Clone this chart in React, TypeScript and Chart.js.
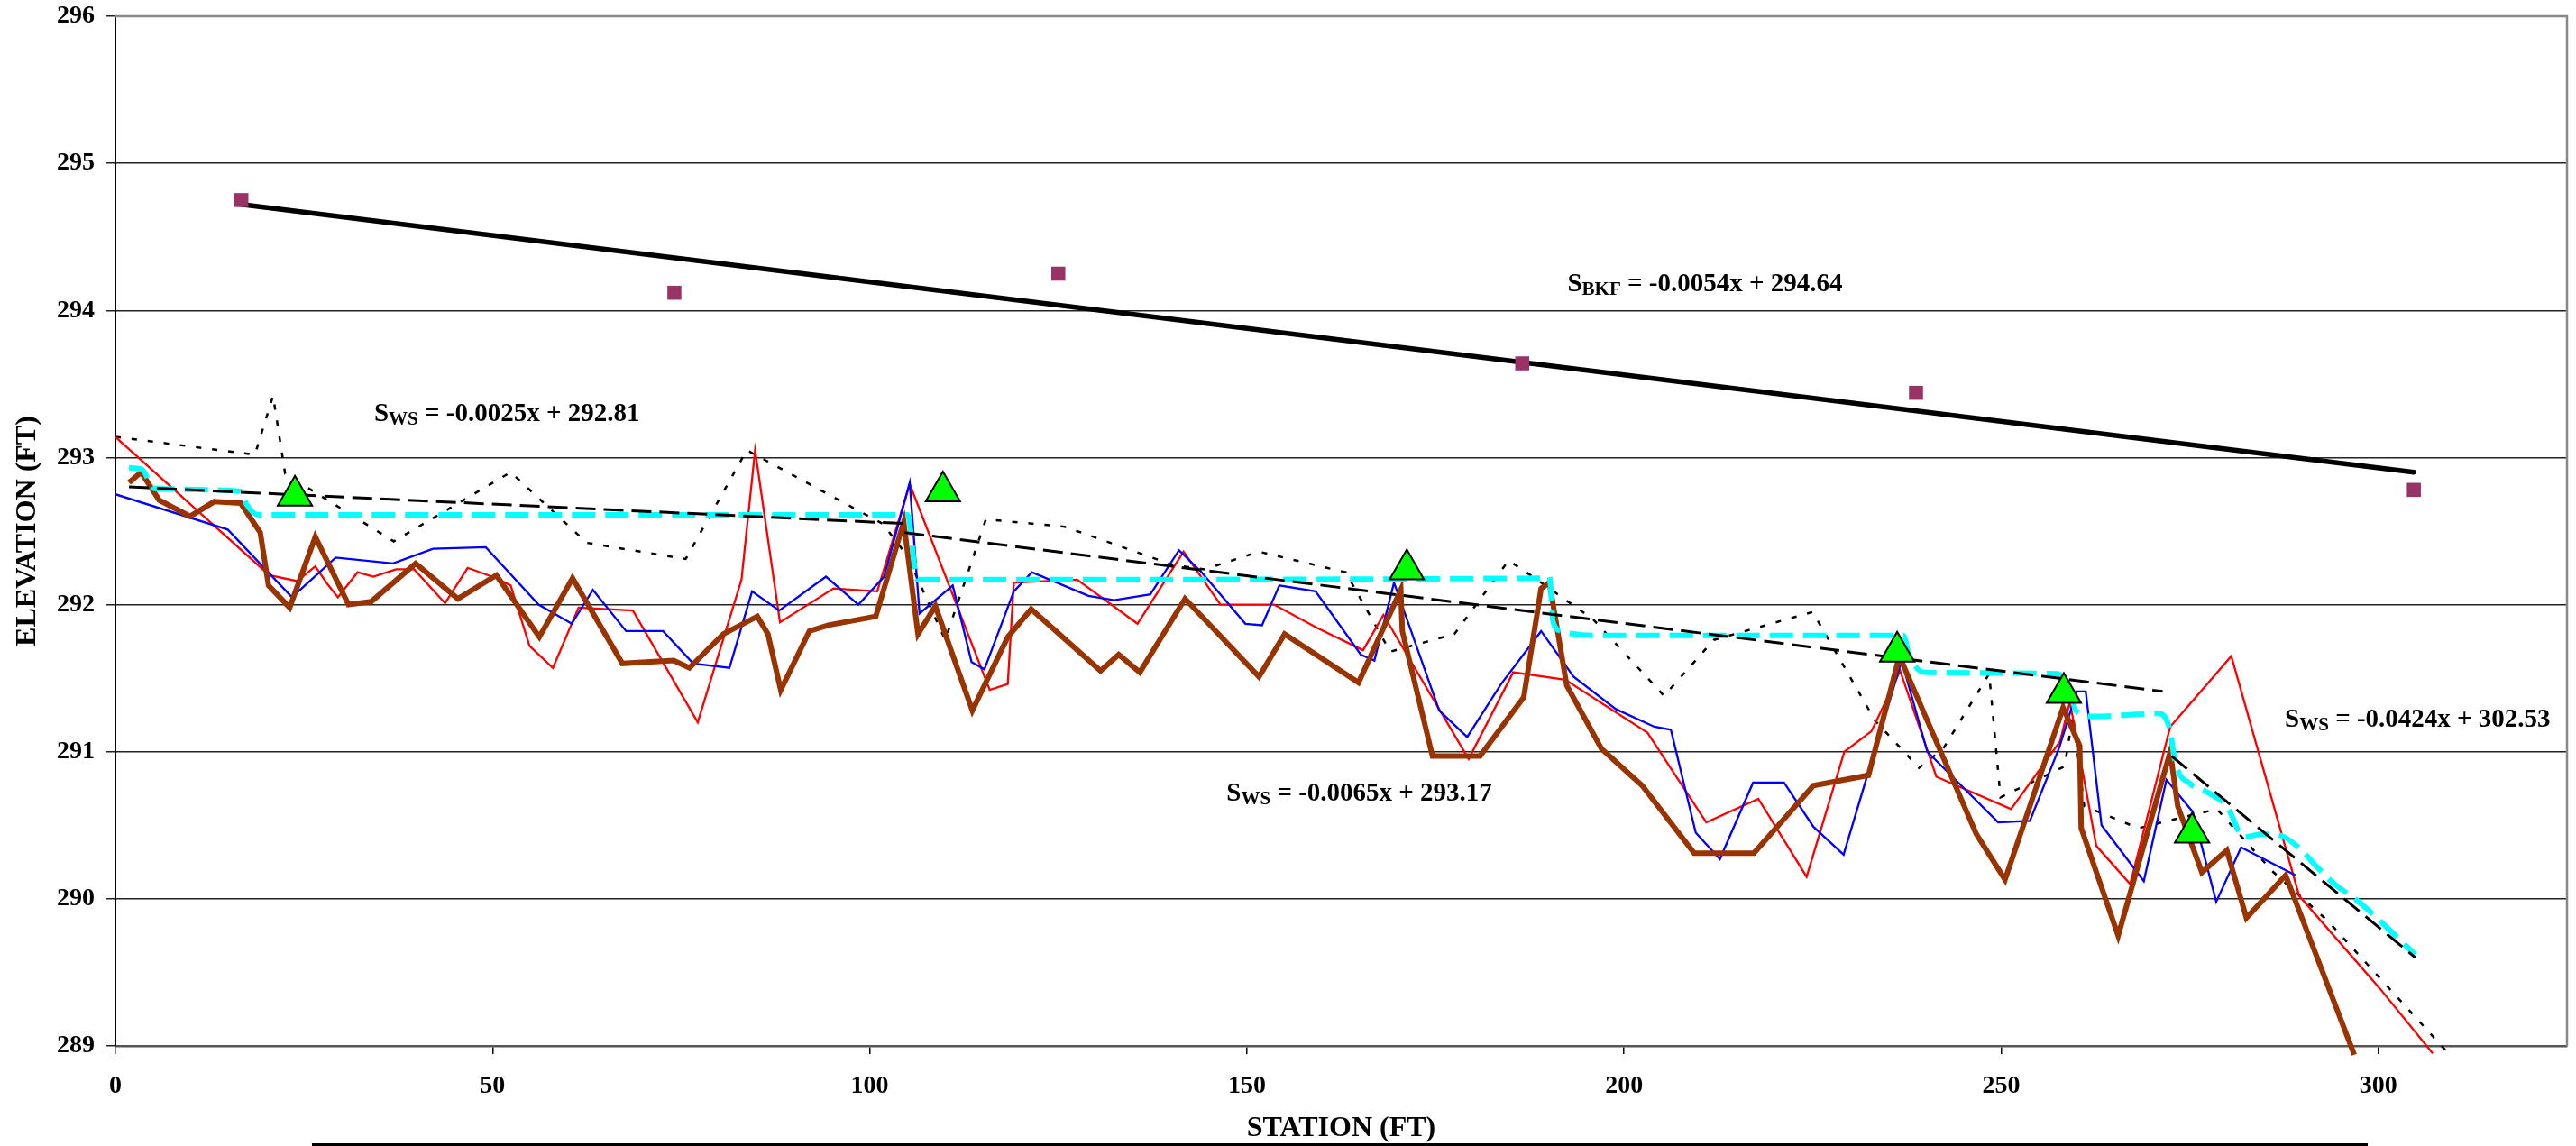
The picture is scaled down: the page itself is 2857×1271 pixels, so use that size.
import React, { useEffect, useRef } from 'react';
import { Chart, registerables } from 'chart.js';

Chart.register(...registerables);

const W = 2857;
const H = 1271;

// ---------- data (station ft, elevation ft) ----------
const xTickValues = [0, 50, 100, 150, 200, 250, 300];
const yTickValues = [289, 290, 291, 292, 293, 294, 295, 296];

const redProfile: [number, number][] = [
  [0, 293.14], [20.4, 292.2], [24.1, 292.16], [26.5, 292.26], [28.1, 292.14], [29.5, 292.05],
  [32.1, 292.22], [34.2, 292.19], [37.2, 292.24], [39.6, 292.24], [43.7, 292.01], [46.7, 292.25],
  [50.5, 292.18], [52.4, 292.13], [54.9, 291.72], [58.0, 291.57], [61.4, 291.98], [68.6, 291.96],
  [77.2, 291.2], [83.0, 292.17], [84.8, 293.05], [88.1, 291.88], [95.2, 292.11], [101.0, 292.09],
  [105.3, 292.82], [115.9, 291.42], [118.3, 291.46], [119.1, 292.15], [127.5, 292.17], [135.5, 291.87],
  [141.6, 292.36], [146.5, 292.0], [153.6, 292.0], [159.4, 291.84], [165.4, 291.69], [168.1, 291.93],
  [179.4, 290.95], [185.3, 291.54], [192.2, 291.49], [203.1, 291.13], [210.9, 290.52], [217.8, 290.68],
  [224.2, 290.15], [229.2, 291.0], [232.8, 291.14], [236.6, 291.55], [241.4, 290.83], [251.3, 290.61],
  [257.8, 291.07], [259.1, 291.34], [262.6, 290.36], [267.1, 290.1], [272.4, 291.17], [280.5, 291.65],
  [289.5, 290.02], [300.2, 289.39], [307.2, 288.95],
];

const blueProfile: [number, number][] = [
  [0, 292.75], [14.9, 292.51], [23.4, 292.05], [29.2, 292.32], [36.8, 292.28], [42.1, 292.38],
  [49.1, 292.39], [56.1, 292.0], [60.5, 291.87], [63.3, 292.1], [67.7, 291.82], [72.6, 291.82],
  [76.6, 291.6], [81.4, 291.57], [84.4, 292.09], [88.0, 291.96], [94.2, 292.19], [98.5, 292.0],
  [101.9, 292.19], [105.3, 292.83], [106.6, 291.94], [111.0, 292.13], [113.5, 291.61], [115.2, 291.56],
  [119.1, 292.09], [121.5, 292.22], [129.0, 292.06], [132.4, 292.03], [137.2, 292.07], [141.0, 292.37],
  [144.0, 292.22], [149.8, 291.87], [152.0, 291.86], [154.3, 292.13], [159.1, 292.09], [165.1, 291.66],
  [166.9, 291.62], [169.5, 292.15], [175.5, 291.28], [179.2, 291.1], [183.7, 291.46], [189.0, 291.82],
  [193.3, 291.51], [198.9, 291.29], [204.0, 291.17], [206.2, 291.15], [209.5, 290.45], [212.7, 290.27],
  [217.1, 290.79], [221.2, 290.79], [225.1, 290.49], [229.1, 290.3], [236.8, 291.62], [240.2, 291.0],
  [249.6, 290.52], [253.8, 290.53], [257.7, 291.03], [260.0, 291.41], [261.2, 291.41], [263.3, 290.5],
  [268.9, 290.12], [271.9, 290.81], [275.4, 290.59], [278.5, 289.98], [281.8, 290.35], [289.0, 290.16],
];

const brownThalweg: [number, number][] = [
  [1.8, 292.83], [3.4, 292.9], [5.8, 292.71], [9.9, 292.6], [13.1, 292.7], [16.6, 292.69],
  [19.2, 292.49], [20.3, 292.13], [23.1, 291.98], [26.5, 292.46], [30.9, 292.0], [33.9, 292.02],
  [39.8, 292.28], [45.4, 292.04], [50.5, 292.2], [56.2, 291.78], [60.6, 292.18], [67.2, 291.6],
  [74.0, 291.62], [76.1, 291.57], [80.6, 291.8], [85.1, 291.92], [86.5, 291.8], [88.2, 291.42],
  [92.0, 291.82], [94.5, 291.86], [100.8, 291.92], [104.5, 292.56], [106.4, 291.8], [108.7, 291.99],
  [113.6, 291.28], [118.3, 291.78], [121.4, 291.97], [130.6, 291.55], [133.0, 291.66], [135.8, 291.54],
  [141.8, 292.04], [151.6, 291.51], [155.0, 291.8], [164.8, 291.47], [170.4, 292.1], [170.6, 291.82],
  [174.6, 290.97], [180.9, 290.97], [186.7, 291.37], [189.0, 292.11], [190.1, 292.15], [192.4, 291.45],
  [197.0, 291.02], [202.4, 290.77], [209.3, 290.31], [217.2, 290.31], [225.1, 290.77], [232.4, 290.84],
  [236.5, 291.65], [246.7, 290.44], [250.5, 290.13], [258.2, 291.3], [260.4, 291.04], [260.6, 290.48],
  [265.5, 289.75], [272.4, 291.0], [273.4, 290.63], [276.6, 290.18], [279.9, 290.33], [282.5, 289.87],
  [287.7, 290.16], [296.8, 288.94],
];

const dottedProfile: [number, number][] = [
  [0, 293.14], [18.5, 293.02], [20.9, 293.42], [22.5, 292.89], [36.9, 292.43], [52.4, 292.9],
  [62.5, 292.42], [75.6, 292.31], [83.7, 293.05], [101.7, 292.55], [105.0, 292.33], [110.0, 291.76],
  [115.4, 292.58], [125.8, 292.53], [140.2, 292.27], [144.4, 292.24], [151.6, 292.36], [163.1, 292.22],
  [169.0, 291.68], [177.5, 291.8], [184.7, 292.3], [187.9, 292.19], [195.9, 291.9], [205.3, 291.38],
  [211.9, 291.76], [225.0, 291.95], [233.3, 291.21], [239.1, 290.89], [242.3, 291.02], [248.4, 291.53],
  [249.9, 290.69], [258.4, 290.9], [259.5, 291.25], [261.0, 290.63], [268.2, 290.48], [272.9, 290.54],
  [278.6, 290.61], [285.9, 290.19], [293.3, 289.85], [308.9, 288.97],
];

const waterSurface: [number, number][] = [
  [1.8, 292.93], [3.5, 292.92], [5.1, 292.79], [16.6, 292.77], [17.4, 292.68], [19.0, 292.61],
  [105.0, 292.61], [106.3, 292.17], [189.0, 292.18], [190.1, 292.19], [190.6, 291.88], [191.7, 291.82],
  [195.9, 291.79], [237.0, 291.79], [237.8, 291.66], [239.7, 291.54], [257.5, 291.53], [259.1, 291.41],
  [259.9, 291.28], [262.3, 291.24], [270.9, 291.26], [272.3, 291.16], [273.1, 290.92], [275.1, 290.78],
  [277.5, 290.72], [279.9, 290.63], [282.2, 290.42], [284.6, 290.44], [287.0, 290.43], [289.4, 290.35],
  [291.8, 290.22], [294.2, 290.1], [297.4, 289.98], [304.9, 289.62],
];

const wsTrend1: [number, number][] = [[1.8, 292.8], [105.0, 292.55]];
const wsTrend2: [number, number][] = [[104.6, 292.49], [271.4, 291.41]];
const wsTrend3: [number, number][] = [[272.6, 290.97], [304.9, 289.6]];
const bkfTrend: [number, number][] = [[16.7, 294.72], [304.7, 292.9]];

const bankfullPoints: [number, number][] = [
  [16.7, 294.75], [74.1, 294.12], [125.0, 294.25], [186.5, 293.64], [238.7, 293.44], [304.7, 292.78],
];

const surveyTriangles: [number, number][] = [
  [23.8, 292.74], [109.7, 292.77], [171.2, 292.24], [236.2, 291.68], [258.3, 291.4], [275.3, 290.45],
];

// equation labels: anchor in data units
const equationLabels = [
  { x: 34.3, y: 293.25, sub: 'WS', rest: ' = -0.0025x + 292.81' },
  { x: 192.5, y: 294.13, sub: 'BKF', rest: ' = -0.0054x + 294.64' },
  { x: 147.3, y: 290.67, sub: 'WS', rest: ' = -0.0065x + 293.17' },
  { x: 287.6, y: 291.17, sub: 'WS', rest: ' = -0.0424x + 302.53' },
];

const SERIF = '"Liberation Serif", "Times New Roman", serif';
const pts = (a: [number, number][]) => a.map(([x, y]) => ({ x, y }));

const decorPlugin = {
  id: 'decor',
  beforeDraw(chart: any) {
    const { ctx } = chart;
    ctx.save();
    ctx.fillStyle = '#fff';
    ctx.fillRect(0, 0, chart.width, chart.height);
    // top edge of the (cut-off) legend box
    ctx.fillStyle = '#000';
    ctx.fillRect(346, 1268, 2280, 3);
    ctx.restore();
  },
  beforeDatasetsDraw(chart: any) {
    const { ctx, chartArea: a } = chart;
    ctx.save();
    ctx.strokeStyle = '#888';
    ctx.lineWidth = 2.5;
    ctx.beginPath();
    ctx.moveTo(a.left, a.top);
    ctx.lineTo(a.right, a.top);
    ctx.lineTo(a.right, a.bottom);
    ctx.stroke();
    ctx.restore();
  },
  afterDraw(chart: any) {
    const { ctx } = chart;
    const xs = chart.scales.x;
    const ys = chart.scales.y;
    ctx.save();
    ctx.fillStyle = '#000';
    ctx.textAlign = 'left';
    ctx.textBaseline = 'alphabetic';
    const mainFont = `bold 29px ${SERIF}`;
    const subFont = `bold 21px ${SERIF}`;
    for (const l of equationLabels) {
      let px = xs.getPixelForValue(l.x);
      const py = ys.getPixelForValue(l.y);
      ctx.font = mainFont;
      ctx.fillText('S', px, py);
      px += ctx.measureText('S').width;
      ctx.font = subFont;
      ctx.fillText(l.sub, px, py + 4);
      px += ctx.measureText(l.sub).width;
      ctx.font = mainFont;
      ctx.fillText(l.rest, px, py);
    }
    ctx.restore();
  },
};

export default function App() {
  const ref = useRef<HTMLCanvasElement>(null);

  useEffect(() => {
    if (!ref.current) return;
    const tickFont = { family: SERIF, size: 28, weight: 'bold' as const };
    const titleFont = { family: SERIF, size: 32, weight: 'bold' as const };

    const lineBase = { pointRadius: 0, pointHoverRadius: 0, fill: false, tension: 0 };

    const chart = new Chart(ref.current, {
      type: 'line',
      data: {
        datasets: [
          {
            ...lineBase, label: 'Survey points', data: pts(surveyTriangles), showLine: false,
            pointStyle: 'triangle', pointRadius: 22, pointHoverRadius: 22,
            backgroundColor: '#00FF00', borderColor: '#000', pointBorderWidth: 2, order: 0,
          },
          {
            ...lineBase, label: 'Bankfull', data: pts(bankfullPoints), showLine: false,
            pointStyle: 'rect', pointRadius: 11, pointHoverRadius: 11,
            backgroundColor: '#993366', borderColor: '#993366', pointBorderWidth: 0, order: 1,
          },
          {
            ...lineBase, label: 'BKF trend', data: pts(bkfTrend), borderColor: '#000',
            borderWidth: 5.5, borderCapStyle: 'round', order: 2,
          },
          {
            ...lineBase, label: 'WS trend 1', data: pts(wsTrend1), borderColor: '#000',
            borderWidth: 3, borderDash: [22, 9], order: 3,
          },
          {
            ...lineBase, label: 'WS trend 2', data: pts(wsTrend2), borderColor: '#000',
            borderWidth: 3, borderDash: [22, 9], order: 3,
          },
          {
            ...lineBase, label: 'WS trend 3', data: pts(wsTrend3), borderColor: '#000',
            borderWidth: 3, borderDash: [22, 9], order: 3,
          },
          {
            ...lineBase, label: 'Water surface', data: pts(waterSurface), borderColor: '#00FFFF',
            borderWidth: 6, borderDash: [26, 11], cubicInterpolationMode: 'monotone', order: 4,
          },
          {
            ...lineBase, label: 'Thalweg', data: pts(brownThalweg), borderColor: '#993300',
            borderWidth: 6, borderJoinStyle: 'miter', order: 5, clip: false,
          },
          {
            ...lineBase, label: 'Blue', data: pts(blueProfile), borderColor: '#0000FF',
            borderWidth: 2.3, order: 6,
          },
          {
            ...lineBase, label: 'Red', data: pts(redProfile), borderColor: '#FF0000',
            borderWidth: 2.3, order: 7, clip: false,
          },
          {
            ...lineBase, label: 'Dotted', data: pts(dottedProfile), borderColor: '#000',
            borderWidth: 2.5, borderDash: [6, 12], order: 8, clip: false,
          },
        ] as any,
      },
      options: {
        animation: false,
        responsive: false,
        maintainAspectRatio: false,
        devicePixelRatio: 1,
        events: [],
        layout: { autoPadding: false, padding: { top: 18, right: 10, left: 0, bottom: 0 } },
        plugins: { legend: { display: false }, tooltip: { enabled: false } },
        scales: {
          x: {
            type: 'linear',
            min: 0,
            max: 325,
            afterBuildTicks: (s: any) => { s.ticks = xTickValues.map((v) => ({ value: v })); },
            afterFit: (s: any) => {
              s.height = 111;
              s.paddingLeft = 0;
              s.paddingRight = 0;
            },
            ticks: { font: tickFont, color: '#000', padding: 19, maxRotation: 0, autoSkip: false },
            grid: { drawOnChartArea: false, drawTicks: true, tickLength: 9, color: '#000', lineWidth: 1.5 },
            border: { display: true, color: '#555', width: 2.5 },
            title: {
              display: true, text: 'STATION (FT)', font: titleFont, color: '#000',
              padding: { top: 0, bottom: 0 },
            },
          },
          y: {
            type: 'linear',
            min: 289,
            max: 296,
            afterBuildTicks: (s: any) => { s.ticks = yTickValues.map((v) => ({ value: v })); },
            afterFit: (s: any) => {
              s.width = 128;
              s.paddingTop = 0;
              s.paddingBottom = 0;
            },
            ticks: { font: tickFont, color: '#000', padding: 13, autoSkip: false },
            grid: { color: '#222', lineWidth: 1.5, drawTicks: true, tickLength: 10 },
            border: { display: true, color: '#000', width: 2 },
            title: {
              display: true, text: 'ELEVATION (FT)', font: titleFont, color: '#000',
              padding: { top: 12, bottom: 0 },
            },
          },
        },
      } as any,
      plugins: [decorPlugin],
    });

    const fontsApi = (document as any).fonts;
    if (fontsApi && fontsApi.ready) {
      fontsApi.ready.then(() => { try { chart.update(); } catch (e) { /* destroyed */ } });
    }
    return () => { chart.destroy(); };
  }, []);

  return (
    <div style={{ position: 'fixed', left: 0, top: 0, width: W, height: H, background: '#fff' }}>
      <canvas ref={ref} width={W} height={H} style={{ width: W, height: H, display: 'block' }} />
    </div>
  );
}
